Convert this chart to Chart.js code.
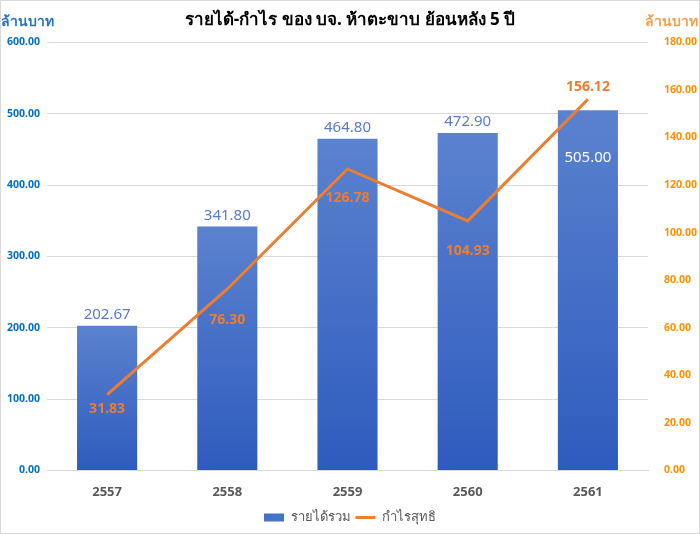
<!DOCTYPE html>
<html>
<head>
<meta charset="utf-8">
<script src="https://cdn.jsdelivr.net/npm/chart.js@4"></script>
<style>
  html, body { margin: 0; padding: 0; background: #fff; }
  #wrap { width: 700px; height: 534px; }
</style>
</head>
<body>
<div id="wrap"><canvas id="chart" width="700" height="534"></canvas></div>
<script>
// data
const years = ["2557", "2558", "2559", "2560", "2561"];
const revenue = [202.67, 341.80, 464.80, 472.90, 505.00];
const profit = [31.83, 76.30, 126.78, 104.93, 156.12];
const leftTicks = [0, 100, 200, 300, 400, 500, 600];
const rightTicks = [0, 20, 40, 60, 80, 100, 120, 140, 160, 180];

const titleText = "รายได้-กำไร ของ บจ. ห้าตะขาบ ย้อนหลัง 5 ปี";
const unitText = "ล้านบาท";
const seriesNames = ["รายได้รวม", "กำไรสุทธิ"];

const blue = "#4472c4";
const orange = "#ed7d31";
const fontFamily = "'Noto Sans', 'DejaVu Sans', sans-serif";

// bar gradient, lighter at the top
function barFill(ctx) {
    const chart = ctx.chart;
    if (!chart.chartArea || ctx.raw === undefined) return blue;
    const y = chart.scales.y;
    const top = y.getPixelForValue(ctx.raw);
    const bottom = y.getPixelForValue(0);
    const g = chart.ctx.createLinearGradient(0, top, 0, bottom);
    g.addColorStop(0, "#5b82cf");
    g.addColorStop(1, "#2e5bbe");
    return g;
}

// background + thin frame + unit labels
const framePlugin = {
    id: "frame",
    beforeDraw(chart) {
        const c = chart.ctx;
        c.save();
        c.fillStyle = "#fff";
        c.fillRect(0, 0, chart.width, chart.height);
        c.strokeStyle = "#d9d9d9";
        c.lineWidth = 1;
        c.strokeRect(0.5, 0.5, chart.width - 1, chart.height - 1);
        c.restore();
    },
    afterDraw(chart) {
        const c = chart.ctx;
        c.save();
        c.font = "bold 14px " + fontFamily;
        c.textBaseline = "middle";
        c.fillStyle = "#2e75b6";
        c.textAlign = "left";
        c.fillText(unitText, 1, 22);
        c.fillStyle = "#f4a050";
        c.textAlign = "right";
        c.fillText(unitText, chart.width - 2, 22);
        c.restore();
    }
};

// value labels (no datalabels plugin offline)
const labelPlugin = {
    id: "valueLabels",
    afterDatasetsDraw(chart) {
        const c = chart.ctx;
        c.save();
        c.textAlign = "center";
        c.textBaseline = "middle";

        const barMeta = chart.getDatasetMeta(0);
        c.font = "15px " + fontFamily;
        barMeta.data.forEach((bar, i) => {
            const txt = revenue[i].toFixed(2);
            if (i === revenue.length - 1) {
                c.fillStyle = "#ffffff";
                c.fillText(txt, bar.x, bar.y + 48);
            } else {
                c.fillStyle = "#5b7bc4";
                c.fillText(txt, bar.x, bar.y - 11);
            }
        });

        const lineMeta = chart.getDatasetMeta(1);
        const offs = [14, 31, 29, 30, -12];
        c.font = "bold 14px " + fontFamily;
        c.fillStyle = orange;
        lineMeta.data.forEach((pt, i) => {
            c.fillText(profit[i].toFixed(2), pt.x, pt.y + offs[i]);
        });
        c.restore();
    }
};

new Chart(document.getElementById("chart"), {
    data: {
        labels: years,
        datasets: [
            {
                type: "bar",
                label: seriesNames[0],
                data: revenue,
                backgroundColor: barFill,
                yAxisID: "y",
                categoryPercentage: 1,
                barPercentage: 0.5,
                order: 2
            },
            {
                type: "line",
                label: seriesNames[1],
                data: profit,
                borderColor: orange,
                borderWidth: 3,
                pointRadius: 0,
                tension: 0,
                yAxisID: "y1",
                order: 1
            }
        ]
    },
    options: {
        responsive: false,
        animation: false,
        layout: { padding: { top: 6, bottom: 0 } },
        plugins: {
            title: {
                display: true,
                text: titleText,
                color: "#000",
                font: { family: fontFamily, size: 17, weight: "bold" },
                padding: { top: 4, bottom: 12 }
            },
            legend: {
                position: "bottom",
                labels: {
                    usePointStyle: true,
                    pointStyleWidth: 20,
                    boxHeight: 8,
                    color: "#595959",
                    font: { family: fontFamily, size: 13 },
                    padding: 5,
                    generateLabels: () => [
                        { text: seriesNames[0], fillStyle: blue, strokeStyle: blue, lineWidth: 0, pointStyle: "rect", datasetIndex: 0, fontColor: "#595959" },
                        { text: seriesNames[1], fillStyle: orange, strokeStyle: orange, lineWidth: 3, pointStyle: "line", datasetIndex: 1, fontColor: "#595959" }
                    ]
                }
            },
            tooltip: { enabled: false }
        },
        scales: {
            x: {
                grid: { display: false },
                border: { color: "#d9d9d9" },
                ticks: {
                    color: "#595959",
                    font: { family: fontFamily, size: 13, weight: "bold" },
                    padding: 6
                }
            },
            y: {
                position: "left",
                min: leftTicks[0],
                max: leftTicks[leftTicks.length - 1],
                afterBuildTicks: (s) => { s.ticks = leftTicks.map(v => ({ value: v })); },
                afterFit: (s) => { s.width = 47; },
                grid: { color: "#d9d9d9", drawTicks: false },
                border: { display: false },
                ticks: {
                    color: "#0070c0",
                    font: { family: fontFamily, size: 10.5, weight: "bold" },
                    padding: 7,
                    callback: (v) => Number(v).toFixed(2)
                }
            },
            y1: {
                position: "right",
                min: rightTicks[0],
                max: rightTicks[rightTicks.length - 1],
                afterBuildTicks: (s) => { s.ticks = rightTicks.map(v => ({ value: v })); },
                afterFit: (s) => { s.width = 52; },
                grid: { display: false },
                border: { display: false },
                ticks: {
                    color: "#ff9000",
                    font: { family: fontFamily, size: 10.5, weight: "bold" },
                    padding: 8,
                    callback: (v) => Number(v).toFixed(2)
                }
            }
        }
    },
    plugins: [framePlugin, labelPlugin]
});
</script>
</body>
</html>
